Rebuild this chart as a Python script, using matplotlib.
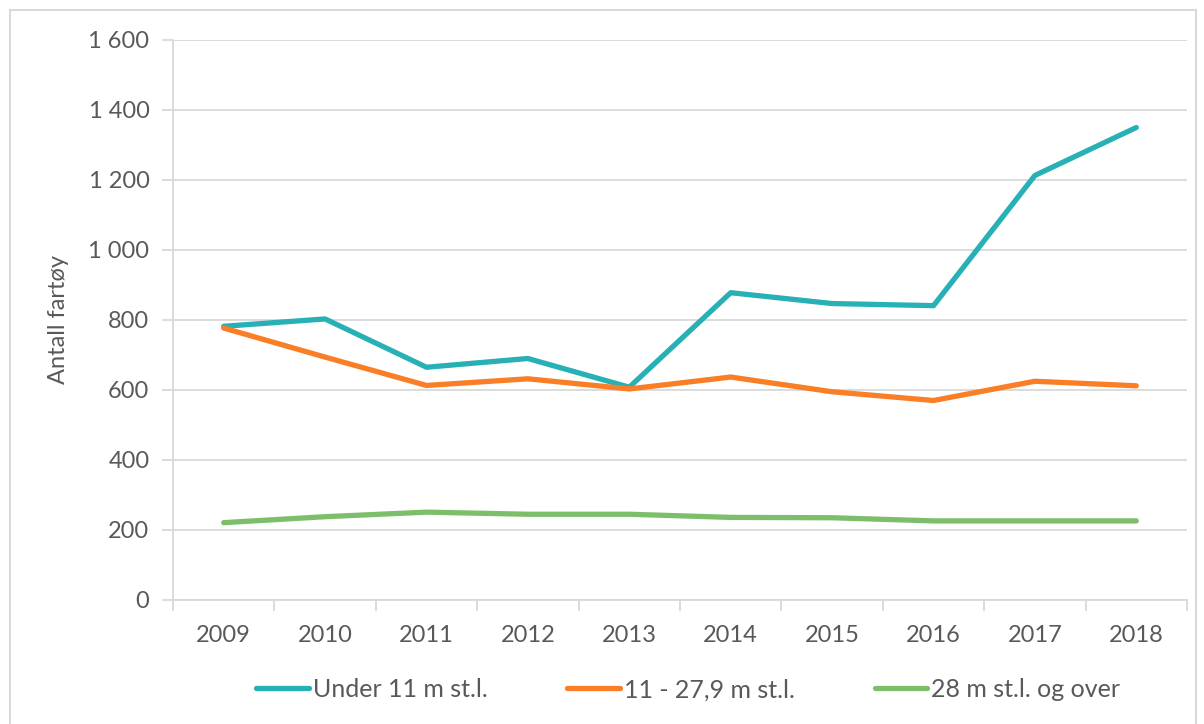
import numpy as np
import matplotlib
matplotlib.use("Agg")
from matplotlib import pyplot as plt
from matplotlib.patches import Rectangle
from matplotlib.ticker import FuncFormatter

plt.rcParams['font.family'] = ['Lato', 'DejaVu Sans']

# Data
years = ['2009', '2010', '2011', '2012', '2013', '2014', '2015', '2016', '2017', '2018']
under_11 = [782, 803, 665, 690, 608, 878, 847, 841, 1213, 1350]
mid_11_28 = [777, 694, 613, 632, 603, 637, 595, 570, 625, 612]
over_28 = [221, 238, 251, 245, 245, 236, 235, 226, 226, 226]
labels = ['Under 11 m st.l.', '11 - 27,9 m st.l.', '28 m st.l. og over']
colors = ['#27B0B5', '#F97E26', '#7DBE6A']

grid_col = '#D9D9D9'
text_col = '#595959'

fig = plt.figure(figsize=(12.04, 7.24), dpi=100)
ax = fig.add_axes([173/1204, 1-600/724, (1187-173)/1204, 560/724])

x = np.arange(len(years))
for vals, lab, col in zip([under_11, mid_11_28, over_28], labels, colors):
    ax.plot(x, vals, color=col, lw=3.8, label=lab, solid_capstyle='round', solid_joinstyle='round')

ax.set_xlim(-0.5, len(years) - 0.5)
ax.set_ylim(0, 1600)
ax.set_yticks(np.arange(0, 1601, 200))
ax.yaxis.set_major_formatter(FuncFormatter(lambda v, p: f'{int(v):,}'.replace(',', ' ')))
ax.grid(axis='y', color=grid_col, lw=1.3)
ax.set_axisbelow(True)

ax.set_xticks(x)
ax.set_xticklabels(years)
ax.set_xticks(np.arange(-0.5, len(years)), minor=True)
ax.tick_params(axis='x', which='major', length=0, pad=18, labelsize=17, labelcolor=text_col)
ax.tick_params(axis='x', which='minor', length=8, width=1.3, color=grid_col, direction='out')
ax.tick_params(axis='y', length=8, width=1.3, color=grid_col, pad=9, labelsize=17, labelcolor=text_col)

for s in ['top', 'right']:
    ax.spines[s].set_visible(False)
for s in ['left', 'bottom']:
    ax.spines[s].set_color(grid_col)
    ax.spines[s].set_linewidth(1.3)

ax.set_ylabel('Antall fartøy', fontsize=17, color=text_col, labelpad=14)

leg = ax.legend(loc='center', bbox_to_anchor=(0.508, -0.16), ncol=3, frameon=False,
                fontsize=18, labelcolor=text_col, handlelength=2.1, handletextpad=0.15,
                columnspacing=3.2)

# outer chart frame
fig.patches.append(Rectangle((10/1204, -0.01), 1186/1204, 1 - 10/724 + 0.01,
                             transform=fig.transFigure, fill=False,
                             edgecolor=grid_col, lw=1.5))

fig.savefig('out.png', dpi=100)
